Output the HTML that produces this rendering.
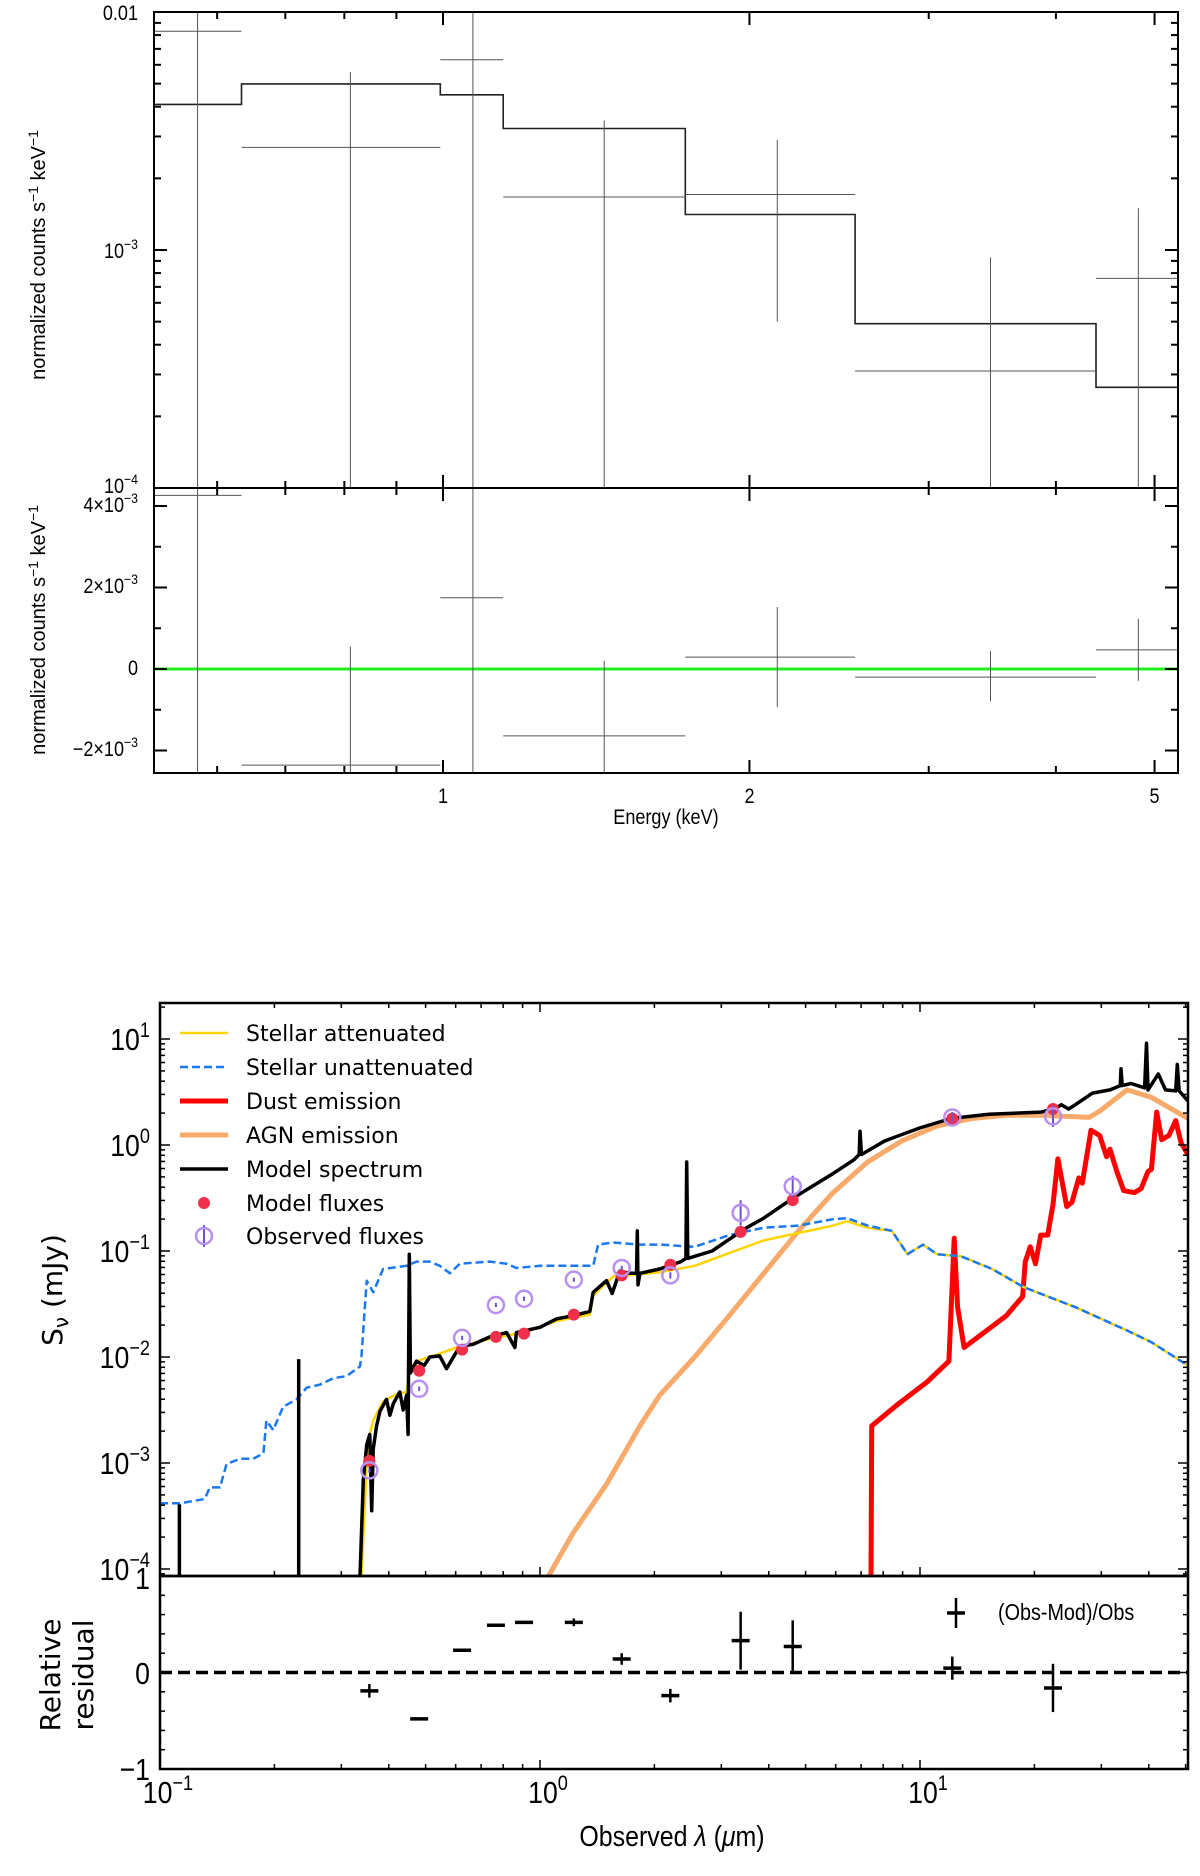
<!DOCTYPE html>
<html><head><meta charset="utf-8">
<style>
html,body{margin:0;padding:0;background:#fff;}
svg{display:block;}
text{font-family:"Liberation Sans",sans-serif;}
.dv{font-family:"DejaVu Sans","Liberation Sans",sans-serif;}
.nar{font-family:"Liberation Sans",sans-serif;}
</style></head>
<body>
<svg id="fig" width="1200" height="1876" viewBox="0 0 1200 1876" xmlns="http://www.w3.org/2000/svg"></svg>
<script>
// ---------- X-ray spectrum data ----------
const binLo = [0.50, 0.634, 0.994, 1.146, 1.73, 2.54, 4.38];
const binHi = [0.634, 0.994, 1.146, 1.73, 2.54, 4.38, 5.4];
const dataE = [0.574, 0.811, 1.07, 1.44, 2.13, 3.45, 4.82];
const dataV = [8.3e-3, 2.7e-3, 6.3e-3, 1.67e-3, 1.71e-3, 3.1e-4, 7.6e-4];
const dataHi = [0.02, 5.6e-3, 0.02, 3.5e-3, 2.9e-3, 9.3e-4, 1.5e-3];
const dataLo = [1e-5, 1e-5, 1e-5, 1e-5, 5.0e-4, 1e-5, 1e-5];
const modelV = [4.09e-3, 4.99e-3, 4.49e-3, 3.24e-3, 1.41e-3, 4.9e-4, 2.65e-4];
const residV = [4.26e-3, -2.36e-3, 1.75e-3, -1.64e-3, 0.29e-3, -0.2e-3, 0.47e-3];
const residHi = [0.01, 0.55e-3, 0.01, 0.2e-3, 1.52e-3, 0.44e-3, 1.23e-3];
const residLo = [-0.01, -0.01, -0.01, -0.01, -0.93e-3, -0.79e-3, -0.29e-3];

// ---------- SED data (log10 lambda [um], log10 S [mJy]) ----------
const blueSED = [[-1.00,-3.38],[-0.948,-3.38],[-0.882,-3.34],[-0.869,-3.23],[-0.842,-3.23],[-0.825,-3.01],[-0.790,-2.96],[-0.755,-2.96],[-0.728,-2.91],[-0.720,-2.60],[-0.702,-2.69],[-0.676,-2.47],[-0.641,-2.40],[-0.614,-2.29],[-0.579,-2.26],[-0.544,-2.20],[-0.509,-2.18],[-0.474,-2.09],[-0.470,-2.00],[-0.456,-1.28],[-0.439,-1.39],[-0.413,-1.17],[-0.351,-1.14],[-0.325,-1.10],[-0.290,-1.10],[-0.264,-1.14],[-0.237,-1.21],[-0.211,-1.12],[-0.132,-1.10],[-0.088,-1.12],[-0.062,-1.16],[0.000,-1.14],[0.087,-1.14],[0.140,-1.14],[0.153,-0.94],[0.193,-0.92],[0.263,-0.94],[0.316,-0.94],[0.407,-0.96],[0.498,-0.85],[0.589,-0.78],[0.680,-0.76],[0.771,-0.70],[0.808,-0.69],[0.862,-0.76],[0.926,-0.81],[0.967,-1.03],[1.008,-0.94],[1.045,-1.03],[1.108,-1.05],[1.190,-1.17],[1.272,-1.34],[1.409,-1.53],[1.545,-1.75],[1.609,-1.86],[1.705,-2.08]];
const yellowSED = [[-0.470,-4.1],[-0.456,-3.0],[-0.447,-2.72],[-0.439,-2.6],[-0.413,-2.42],[-0.377,-2.35],[-0.351,-2.33],[-0.343,-2.11],[-0.325,-2.04],[-0.290,-2.00],[-0.211,-1.90],[-0.132,-1.83],[-0.035,-1.76],[0.044,-1.66],[0.087,-1.63],[0.131,-1.60],[0.140,-1.42],[0.193,-1.24],[0.263,-1.22],[0.316,-1.20],[0.407,-1.14],[0.498,-1.02],[0.589,-0.90],[0.680,-0.83],[0.771,-0.76],[0.808,-0.72],[0.862,-0.78],[0.926,-0.81],[0.967,-1.03],[1.008,-0.94],[1.045,-1.03],[1.108,-1.05],[1.190,-1.17],[1.272,-1.34],[1.409,-1.53],[1.545,-1.75],[1.609,-1.86],[1.705,-2.08]];
const blackSED = [[-0.474,-4.1],[-0.465,-3.16],[-0.456,-2.83],[-0.448,-2.73],[-0.443,-3.45],[-0.439,-2.87],[-0.430,-2.65],[-0.421,-2.51],[-0.404,-2.40],[-0.395,-2.55],[-0.386,-2.44],[-0.369,-2.33],[-0.360,-2.50],[-0.351,-2.36],[-0.347,-2.73],[-0.344,-1.03],[-0.341,-2.15],[-0.325,-2.04],[-0.305,-2.08],[-0.290,-2.00],[-0.264,-1.99],[-0.246,-2.11],[-0.211,-1.90],[-0.176,-1.88],[-0.132,-1.81],[-0.088,-1.77],[-0.066,-1.91],[-0.062,-1.77],[0.000,-1.72],[0.044,-1.64],[0.087,-1.61],[0.131,-1.57],[0.140,-1.39],[0.175,-1.28],[0.190,-1.40],[0.210,-1.19],[0.236,-1.21],[0.254,-1.21],[0.256,-0.81],[0.258,-1.32],[0.263,-1.21],[0.315,-1.17],[0.371,-1.10],[0.384,-1.07],[0.386,-0.16],[0.389,-1.07],[0.453,-1.00],[0.498,-0.89],[0.544,-0.78],[0.589,-0.69],[0.662,-0.51],[0.698,-0.43],[0.771,-0.27],[0.826,-0.14],[0.840,-0.09],[0.842,0.13],[0.846,-0.09],[0.908,0.04],[0.999,0.16],[1.081,0.25],[1.181,0.29],[1.318,0.31],[1.354,0.34],[1.372,0.38],[1.391,0.34],[1.409,0.38],[1.454,0.49],[1.500,0.52],[1.527,0.56],[1.529,0.72],[1.532,0.56],[1.555,0.58],[1.591,0.54],[1.596,0.96],[1.600,0.52],[1.627,0.67],[1.646,0.52],[1.673,0.51],[1.677,0.76],[1.682,0.51],[1.705,0.415]];
const spikeLam = [-0.949, -0.635];
const spikeTop = [-3.39, -2.02];
const orangeSED = [[0.017,-4.1],[0.087,-3.66],[0.175,-3.20],[0.263,-2.65],[0.315,-2.36],[0.407,-2.00],[0.498,-1.61],[0.589,-1.21],[0.680,-0.81],[0.771,-0.45],[0.862,-0.16],[0.953,0.04],[1.045,0.18],[1.136,0.25],[1.227,0.28],[1.318,0.28],[1.445,0.26],[1.473,0.32],[1.545,0.52],[1.609,0.45],[1.705,0.25]];
const redSED = [[0.871,-4.1],[0.873,-2.65],[0.944,-2.44],[1.017,-2.24],[1.076,-2.04],[1.090,-0.88],[1.099,-1.53],[1.116,-1.91],[1.227,-1.61],[1.270,-1.43],[1.277,-1.10],[1.290,-0.96],[1.304,-1.12],[1.318,-0.85],[1.336,-0.85],[1.350,-0.56],[1.363,-0.13],[1.386,-0.58],[1.400,-0.54],[1.418,-0.31],[1.427,-0.36],[1.450,0.14],[1.473,0.09],[1.491,-0.11],[1.500,-0.04],[1.518,-0.25],[1.536,-0.43],[1.564,-0.45],[1.582,-0.41],[1.600,-0.25],[1.609,-0.23],[1.623,0.31],[1.636,0.05],[1.655,0.09],[1.673,0.23],[1.687,0.02],[1.705,-0.09]];
const bandLam = [-0.449,-0.318,-0.205,-0.116,-0.042,0.089,0.215,0.343,0.528,0.665,1.085,1.350];
const modelFlux = [-2.98,-2.13,-1.93,-1.81,-1.78,-1.60,-1.23,-1.13,-0.82,-0.52,0.25,0.34];
const obsFlux = [-3.07,-2.30,-1.82,-1.51,-1.45,-1.27,-1.16,-1.23,-0.64,-0.39,0.26,0.27];
const obsErr = [0.02,0.02,0.02,0.02,0.02,0.02,0.02,0.03,0.12,0.10,0.05,0.10];
const relResid = [-0.19,-0.48,0.23,0.49,0.52,0.52,0.14,-0.24,0.33,0.27,0.045,-0.16];
const relErr = [0.07,0.0,0.0,0.0,0.0,0.04,0.06,0.07,0.30,0.27,0.12,0.25];

const NS = "http://www.w3.org/2000/svg";
const SQ = 0.86;
const svg = document.getElementById('fig');
function el(tag, attrs, parent) {
  const e = document.createElementNS(NS, tag);
  for (const k in attrs) e.setAttribute(k, attrs[k]);
  (parent || svg).appendChild(e);
  return e;
}
function narrow(t, x) {
  t.setAttribute('x', (x / SQ).toFixed(1));
  t.setAttribute('transform', 'scale(' + SQ + ',1)');
}
function txt(s, x, y, size, anchor, cls, parent) {
  const t = el('text', {x: x, y: y, 'font-size': size, 'text-anchor': anchor || 'middle', fill: '#000'}, parent);
  if (cls) t.setAttribute('class', cls);
  if (cls === 'nar') narrow(t, x);
  t.textContent = s;
  return t;
}
function supTxt(base, sup, x, y, size, anchor, cls, parent) {
  const t = el('text', {x: x, y: y, 'font-size': size, 'text-anchor': anchor, fill: '#000'}, parent);
  if (cls) t.setAttribute('class', cls);
  if (cls === 'nar') narrow(t, x);
  const a = el('tspan', {}, t); a.textContent = base;
  const b = el('tspan', {dy: -size * 0.42, 'font-size': size * 0.68}, t); b.textContent = sup;
  return t;
}
const defs = el('defs', {});
const c1 = el('clipPath', {id: 'clipTop'}, defs); el('rect', {x: 154, y: 12, width: 1024, height: 476}, c1);
const c2 = el('clipPath', {id: 'clipRes'}, defs); el('rect', {x: 154, y: 488, width: 1024, height: 285}, c2);
const c3 = el('clipPath', {id: 'clipSed'}, defs); el('rect', {x: 160, y: 1003, width: 1028, height: 573}, c3);
const c4 = el('clipPath', {id: 'clipRel'}, defs); el('rect', {x: 160, y: 1576, width: 1028, height: 193}, c4);

// ================= X-ray chart =================
const XL = 154, XR = 1178, YT = 12, YM = 488, YB = 773;
const xE = e => 443 + Math.log10(e) * 1018;
const yTop = v => YT + (-2 - Math.log10(v)) * 238;
const yRes = v => 669 - v / 2e-3 * 81.5;

const gX = el('g', {});


let d = '';
for (let i = 0; i < modelV.length; i++) {
  const xa = xE(binLo[i]), xb = xE(binHi[i]), yy = yTop(modelV[i]);
  d += (i === 0 ? 'M' : 'L') + xa.toFixed(1) + ',' + yy.toFixed(1) + 'L' + xb.toFixed(1) + ',' + yy.toFixed(1);
}
const mp = el('path', {d: d, fill: 'none', stroke: '#222', 'stroke-width': 1.6, 'clip-path': 'url(#clipTop)'}, gX);


for (let i = 0; i < dataE.length; i++) {
  const g = el('g', {stroke: '#555', 'stroke-width': 1, 'clip-path': 'url(#clipTop)'}, gX);
  
  
  el('line', {x1: xE(binLo[i]), x2: xE(binHi[i]), y1: yTop(dataV[i]), y2: yTop(dataV[i])}, g);
  el('line', {x1: xE(dataE[i]), x2: xE(dataE[i]), y1: yTop(dataHi[i]), y2: yTop(dataLo[i])}, g);
}
const gl = el('line', {x1: XL, x2: XR, y1: yRes(0), y2: yRes(0), stroke: '#22ee22', 'stroke-width': 3}, gX);


for (let i = 0; i < residV.length; i++) {
  const g = el('g', {stroke: '#555', 'stroke-width': 1, 'clip-path': 'url(#clipRes)'}, gX);
  
  
  el('line', {x1: xE(binLo[i]), x2: xE(binHi[i]), y1: yRes(residV[i]), y2: yRes(residV[i])}, g);
  el('line', {x1: xE(dataE[i]), x2: xE(dataE[i]), y1: yRes(residHi[i]), y2: yRes(residLo[i])}, g);
}
el('rect', {x: XL, y: YT, width: XR - XL, height: YM - YT, fill: 'none', stroke: '#000', 'stroke-width': 2}, gX);
el('rect', {x: XL, y: YM, width: XR - XL, height: YB - YM, fill: 'none', stroke: '#000', 'stroke-width': 2}, gX);
const eMajor = [1, 2, 5], eMinor = [0.6, 0.7, 0.8, 0.9, 3, 4];
[[YT, 1], [YM, -1], [YM, 1], [YB, -1]].forEach(([y0, s]) => {
  eMajor.forEach(e => el('line', {x1: xE(e), x2: xE(e), y1: y0, y2: y0 + s * 13, stroke: '#000', 'stroke-width': 2}, gX));
  eMinor.forEach(e => el('line', {x1: xE(e), x2: xE(e), y1: y0, y2: y0 + s * 7, stroke: '#000', 'stroke-width': 2}, gX));
});
eMajor.forEach(e => txt(String(e), xE(e), 803, 21, 'middle', 'nar', gX));
const xt = txt('Energy (keV)', 666, 824, 21, 'middle', 'nar', gX);


[XL, XR].forEach((x0, k) => {
  const s = k === 0 ? 1 : -1;
  [1e-2, 1e-3].forEach(v => el('line', {x1: x0, x2: x0 + s * 13, y1: yTop(v), y2: yTop(v), stroke: '#000', 'stroke-width': 2}, gX));
  for (const dec of [1e-4, 1e-3]) for (let m = 2; m <= 9; m++)
    el('line', {x1: x0, x2: x0 + s * 7, y1: yTop(m * dec), y2: yTop(m * dec), stroke: '#000', 'stroke-width': 2}, gX);
  [4e-3, 2e-3, 0, -2e-3].forEach(v => el('line', {x1: x0, x2: x0 + s * 13, y1: yRes(v), y2: yRes(v), stroke: '#000', 'stroke-width': 2}, gX));
  [3e-3, 1e-3, -1e-3].forEach(v => el('line', {x1: x0, x2: x0 + s * 7, y1: yRes(v), y2: yRes(v), stroke: '#000', 'stroke-width': 2}, gX));
});
txt('0.01', 138, 20, 21, 'end', 'nar', gX);
supTxt('10', '−3', 138, 258, 21, 'end', 'nar', gX);
supTxt('10', '−4', 138, 493, 21, 'end', 'nar', gX);
supTxt('4×10', '−3', 138, 512, 21, 'end', 'nar', gX);
supTxt('2×10', '−3', 138, 593, 21, 'end', 'nar', gX);
txt('0', 138, 675, 21, 'end', 'nar', gX);
supTxt('−2×10', '−3', 138, 756, 21, 'end', 'nar', gX);
const yt1 = el('text', {x: 0, y: 0, 'font-size': 20, 'text-anchor': 'middle', transform: 'translate(45,255) rotate(-90)', fill: '#000'}, gX);


yt1.innerHTML = 'normalized counts s<tspan dy="-7" font-size="14">−1</tspan><tspan dy="7"> keV</tspan><tspan dy="-7" font-size="14">−1</tspan>';
const yt2 = el('text', {x: 0, y: 0, 'font-size': 20, 'text-anchor': 'middle', transform: 'translate(45,630) rotate(-90)', fill: '#000'}, gX);


yt2.innerHTML = 'normalized counts s<tspan dy="-7" font-size="14">−1</tspan><tspan dy="7"> keV</tspan><tspan dy="-7" font-size="14">−1</tspan>';

// ================= SED chart =================
const SL = 160, SR = 1188, ST = 1003, SM = 1576, SB = 1769;
const xL = l => SL + (l + 1) * 380;
const yS = s => 1039 - (s - 1) * 106;
const yR = r => 1672.5 - r * 96.5;
const gS = el('g', {});


function line(arr, stroke, w, dash, name) {
  const p = el('path', {d: arr.map((p, i) => (i ? 'L' : 'M') + xL(p[0]).toFixed(1) + ',' + yS(p[1]).toFixed(1)).join(''), fill: 'none', stroke: stroke, 'stroke-width': w, 'stroke-linejoin': 'round', 'clip-path': 'url(#clipSed)'}, gS);
  if (dash) p.setAttribute('stroke-dasharray', dash);
  
  
  return p;
}
line(orangeSED, '#f8aa6a', 5, null, 'agn-emission-line');
line(redSED, '#ff0000', 5, null, 'dust-emission-line');
line(yellowSED, '#ffd400', 2.5, null, 'stellar-attenuated-line');
line(blueSED, '#1a78f0', 2.5, '8,4', 'stellar-unattenuated-line');
line(blackSED, '#000', 3.5, null, 'model-spectrum-line');
for (let i = 0; i < spikeLam.length; i++) {
  const s = el('line', {x1: xL(spikeLam[i]), x2: xL(spikeLam[i]), y1: yS(-4.2), y2: yS(spikeTop[i]), stroke: '#000', 'stroke-width': 3.5, 'clip-path': 'url(#clipSed)'}, gS);
  
  
}
for (let i = 0; i < bandLam.length; i++) {
  const m = el('circle', {cx: xL(bandLam[i]), cy: yS(modelFlux[i]), r: 6, fill: '#f0304a'}, gS);
  
  
  const g = el('g', {}, gS);
  
  
  el('line', {x1: xL(bandLam[i]), x2: xL(bandLam[i]), y1: yS(obsFlux[i] + obsErr[i]), y2: yS(obsFlux[i] - obsErr[i]), stroke: '#7050d0', 'stroke-width': 2}, g);
  el('circle', {cx: xL(bandLam[i]), cy: yS(obsFlux[i]), r: 8, fill: 'none', stroke: '#b890f0', 'stroke-width': 2.5}, g);
}
const lg = el('g', {}, gS);


const legRows = [1033, 1067, 1101, 1135, 1169, 1203, 1236];
const legNames = ['Stellar attenuated', 'Stellar unattenuated', 'Dust emission', 'AGN emission', 'Model spectrum', 'Model fluxes', 'Observed fluxes'];
el('line', {x1: 180, x2: 228, y1: legRows[0], y2: legRows[0], stroke: '#ffd400', 'stroke-width': 2.5}, lg);
el('line', {x1: 180, x2: 228, y1: legRows[1], y2: legRows[1], stroke: '#1a78f0', 'stroke-width': 2.5, 'stroke-dasharray': '8,4'}, lg);
el('line', {x1: 180, x2: 228, y1: legRows[2], y2: legRows[2], stroke: '#ff0000', 'stroke-width': 5}, lg);
el('line', {x1: 180, x2: 228, y1: legRows[3], y2: legRows[3], stroke: '#f8aa6a', 'stroke-width': 5}, lg);
el('line', {x1: 180, x2: 228, y1: legRows[4], y2: legRows[4], stroke: '#000', 'stroke-width': 3.5}, lg);
el('circle', {cx: 204, cy: legRows[5], r: 6, fill: '#f0304a'}, lg);
el('line', {x1: 204, x2: 204, y1: legRows[6] - 11, y2: legRows[6] + 11, stroke: '#7050d0', 'stroke-width': 2}, lg);
el('circle', {cx: 204, cy: legRows[6], r: 8, fill: 'none', stroke: '#b890f0', 'stroke-width': 2.5}, lg);
legNames.forEach((n, i) => {
  const t = txt(n, 246, legRows[i] + 8, 22, 'start', 'dv', lg);
  
  
});
const zl = el('line', {x1: SL, x2: SR, y1: yR(0), y2: yR(0), stroke: '#000', 'stroke-width': 3.5, 'stroke-dasharray': '12,6'}, gS);


for (let i = 0; i < bandLam.length; i++) {
  const g = el('g', {stroke: '#000', 'stroke-width': 2.5, 'clip-path': 'url(#clipRel)'}, gS);
  
  
  el('line', {x1: xL(bandLam[i]) - 9, x2: xL(bandLam[i]) + 9, y1: yR(relResid[i]), y2: yR(relResid[i]), 'stroke-width': 3.5}, g);
  if (relErr[i] > 0) el('line', {x1: xL(bandLam[i]), x2: xL(bandLam[i]), y1: yR(relResid[i] + relErr[i]), y2: yR(relResid[i] - relErr[i])}, g);
}
const rl = el('g', {stroke: '#000', 'stroke-width': 2.5}, gS);


el('line', {x1: 947, x2: 965, y1: 1613, y2: 1613, 'stroke-width': 3.5}, rl);
el('line', {x1: 956, x2: 956, y1: 1598, y2: 1628}, rl);
txt('(Obs-Mod)/Obs', 998, 1620, 23, 'start', 'nar', gS);
el('rect', {x: SL, y: ST, width: SR - SL, height: SM - ST, fill: 'none', stroke: '#000', 'stroke-width': 2.5}, gS);
el('rect', {x: SL, y: SM, width: SR - SL, height: SB - SM, fill: 'none', stroke: '#000', 'stroke-width': 2.5}, gS);
const lamMajor = [-1, 0, 1];
[[ST, 1], [SM, -1], [SB, -1]].forEach(([y0, s]) => {
  for (let dec = -1; dec <= 1; dec++) {
    for (let m = 1; m <= 9; m++) {
      const l = dec + Math.log10(m);
      if (l > 1.705) continue;
      el('line', {x1: xL(l), x2: xL(l), y1: y0, y2: y0 + s * (m === 1 ? 9 : 5), stroke: '#000', 'stroke-width': 1.5}, gS);
    }
  }
});
lamMajor.forEach(l => supTxt('10', l < 0 ? '−1' : String(l), xL(l) + 8, 1803, 31, 'middle', 'nar', gS));
const xt2 = el('text', {x: 672, y: 1846, 'font-size': 29, 'text-anchor': 'middle', fill: '#000', class: 'nar'}, gS);
narrow(xt2, 672);


xt2.innerHTML = 'Observed <tspan font-style="italic">λ</tspan> (<tspan font-style="italic">μ</tspan>m)';
[SL, SR].forEach((x0, k) => {
  const s = k === 0 ? 1 : -1;
  for (let dec = -5; dec <= 1; dec++) for (let m = 1; m <= 9; m++) {
    const v = dec + Math.log10(m);
    if (v < -4.06 || v > 1.34) continue;
    el('line', {x1: x0, x2: x0 + s * (m === 1 ? 10 : 5), y1: yS(v), y2: yS(v), stroke: '#000', 'stroke-width': 1.5}, gS);
  }
  for (let r = -1; r <= 1.001; r += 0.2) el('line', {x1: x0, x2: x0 + s * (Math.abs(r - Math.round(r)) < 0.01 ? 10 : 5), y1: yR(r), y2: yR(r), stroke: '#000', 'stroke-width': 1.5}, gS);
});
[1, 0, -1, -2, -3, -4].forEach(v => supTxt('10', v < 0 ? '−' + (-v) : String(v), 150, yS(v) + 11, 31, 'end', 'nar', gS));
txt('1', 150, 1589, 31, 'end', 'nar', gS);
txt('0', 150, 1684, 31, 'end', 'nar', gS);
txt('−1', 150, 1780, 31, 'end', 'nar', gS);
const yt3 = el('text', {x: 0, y: 0, 'font-size': 28, 'text-anchor': 'middle', transform: 'translate(62,1290) rotate(-90)', fill: '#000', class: 'dv'}, gS);


yt3.innerHTML = 'S<tspan dy="6" font-size="20">ν</tspan><tspan dy="-6"> (mJy)</tspan>';
const yt4 = el('text', {x: 0, y: 0, 'font-size': 28, 'text-anchor': 'middle', transform: 'translate(60,1675) rotate(-90)', fill: '#000', class: 'dv'}, gS);


yt4.textContent = 'Relative';
const yt5 = el('text', {x: 0, y: 0, 'font-size': 28, 'text-anchor': 'middle', transform: 'translate(93,1675) rotate(-90)', fill: '#000', class: 'dv'}, gS);


yt5.textContent = 'residual';
</script>
</body></html>
